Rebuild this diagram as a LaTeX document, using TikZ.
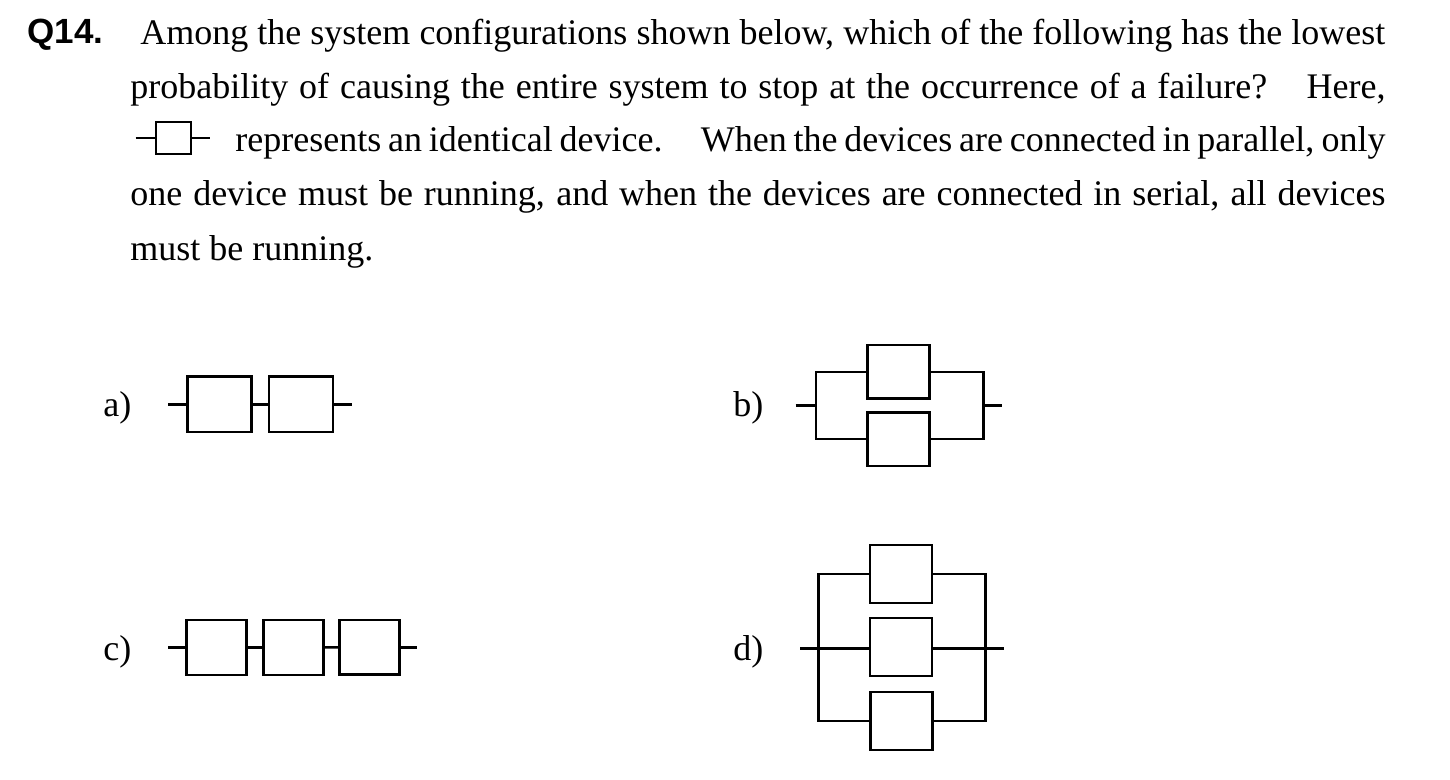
\documentclass[tikz,border=0pt]{standalone}
\usepackage{fontspec}
\setmainfont{Liberation Serif}
\setsansfont{Liberation Sans}
\usetikzlibrary{positioning}
\newcommand{\qline}[2]{\makebox[#1][s]{#2}}

\begin{document}
\begin{tikzpicture}[x = .5pt, y = -.5pt,
    txt/.style = {anchor = base west, inner sep = 0pt, font = \fontsize{18}{27}\selectfont},
    device/.style = {draw, line width = 1.25pt, inner sep = 0pt, minimum width = #1},
    wire/.style = {line width = 1.25pt}]
    \useasboundingbox (0,0) rectangle (1450,780);
    % Question text
    \node[anchor = base west, inner sep = 0pt, font = \fontsize{17.5}{27}\selectfont\sffamily\bfseries] (qno) at (27,44) {Q14.};
    \node[txt] (l1) at (140,44.5) {\qline{622.5pt}{Among the system configurations shown below, which of the following has the lowest}};
    \node[txt] (l2) at (130,98.5) {\qline{627.5pt}{probability of causing the entire system to stop at the occurrence of a failure?\hspace{.6em} Here,}};
    \node[txt] (l3) at (235,152) {\qline{575pt}{represents an identical device.\hspace{.75em} When the devices are connected in parallel, only}};
    \node[txt] (l4) at (130,206) {\qline{627.5pt}{one device must be running, and when the devices are connected in serial, all devices}};
    \node[txt] (l5) at (130,260.5) {must be running.};
    % Inline device
    \node[device = 17.5pt, minimum height = 16pt] (q) at (173.5,138.2) {};
    \coordinate (q in) at (135.7,138.2);
    \coordinate (q out) at (210.3,138.2);
    \draw[wire] (q in) -- (q);
    \draw[wire] (q) -- (q out);
    % Labels
    \node[txt] (a) at (103,416) {a)};
    \node[txt] (b) at (733,416) {b)};
    \node[txt] (c) at (103,660) {c)};
    \node[txt] (d) at (733,660) {d)};
    % a)
    \node[device = 32pt, minimum height = 27.6pt] (a1) at (219.3,404.3) {};
    \node[device = 32pt, minimum height = 27.6pt] (a2) at (301,404.3) {};
    \coordinate (a in) at (168.3,404.3);
    \coordinate (a out) at (351.7,404.3);
    \draw[wire] (a in) -- (a1);
    \draw[wire] (a1) -- (a2);
    \draw[wire] (a2) -- (a out);
    % b)
    \node[device = 31.2pt, minimum height = 26.8pt] (b1) at (898.5,371.9) {};
    \node[device = 31.2pt, minimum height = 26.8pt] (b2) at (898.5,439.1) {};
    \coordinate (b in) at (795.7,405.7);
    \coordinate (b out) at (1001.7,405.7);
    \coordinate (b left) at (816,405.7);
    \coordinate (b right) at (983.3,405.7);
    \draw[wire] (b in) -- (b left);
    \draw[wire] (b1) -| (b left) |- (b2);
    \draw[wire] (b1) -| (b right) |- (b2);
    \draw[wire] (b right) -- (b out);
    % c)
    \node[device = 30pt, minimum height = 27.4pt] (c1) at (216.3,647.6) {};
    \node[device = 30pt, minimum height = 27.4pt] (c2) at (293.3,647.6) {};
    \node[device = 30pt, minimum height = 27.4pt] (c3) at (369.5,647.3) {};
    \coordinate (c in) at (168.3,647.6);
    \coordinate (c out) at (417.3,647.3);
    \draw[wire] (c in) -- (c1);
    \draw[wire] (c1) -- (c2);
    \draw[wire] (c2) -- (c3);
    \draw[wire] (c3) -- (c out);
    % d)
    \node[device = 31pt, minimum height = 29pt] (d1) at (900.9,573.8) {};
    \node[device = 31pt, minimum height = 29pt] (d2) at (900.9,647) {};
    \node[device = 31pt, minimum height = 29pt] (d3) at (901.5,721) {};
    \coordinate (d in) at (800,648.3);
    \coordinate (d out) at (1004.3,648.3);
    \coordinate (d left) at (818.7,648.3);
    \coordinate (d right) at (985.3,648.3);
    \draw[wire] (d1) -| (d left) |- (d3);
    \draw[wire] (d1) -| (d right) |- (d3);
    \draw[wire] (d in) -- (d left) -- (d2.west |- d in);
    \draw[wire] (d2.east |- d out) -- (d right) -- (d out);
\end{tikzpicture}
\end{document}
